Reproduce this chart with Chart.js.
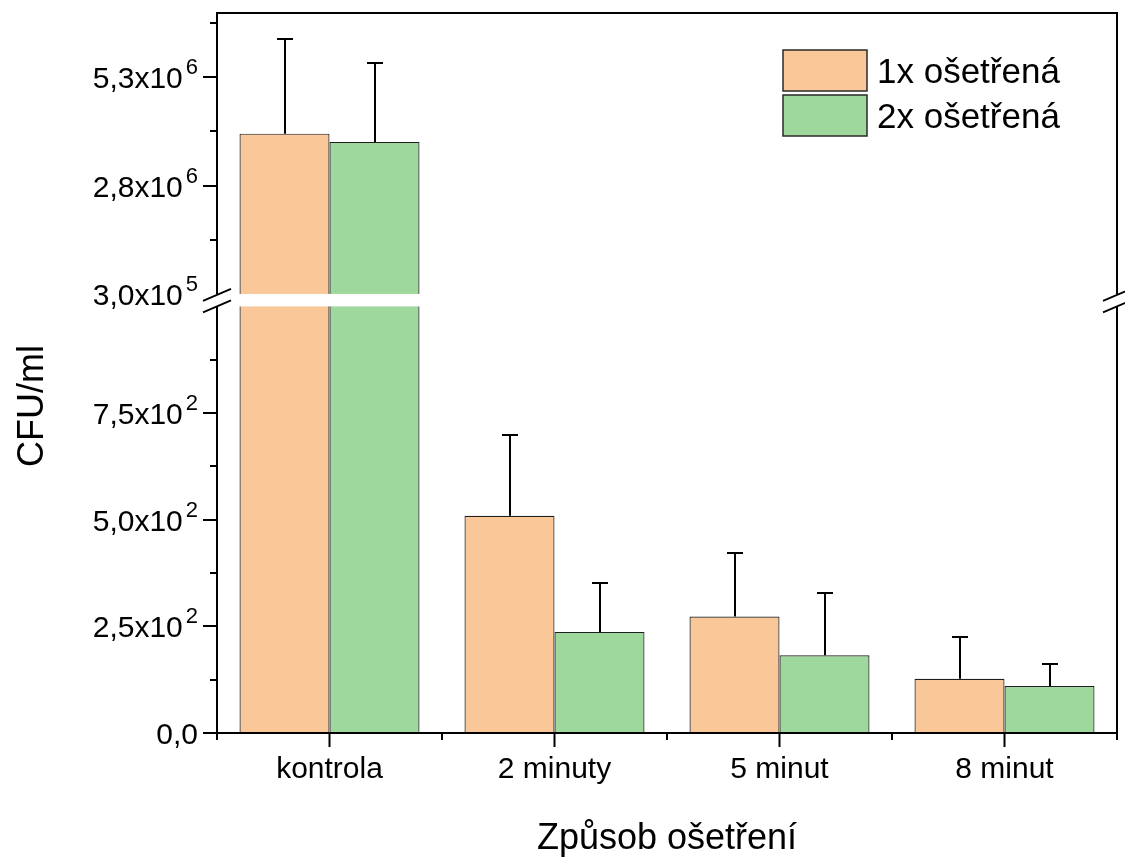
<!DOCTYPE html>
<html>
<head>
<meta charset="utf-8">
<script src="https://cdn.jsdelivr.net/npm/chart.js@4.4.1/dist/chart.umd.min.js"></script>
<style>
  html, body { margin: 0; padding: 0; background: #ffffff; }
  #wrap { width: 1125px; height: 867px; position: relative; }
</style>
</head>
<body>
<div id="wrap"><canvas id="chart"></canvas></div>
<script>
// Categories and series
const categories = ['kontrola', '2 minuty', '5 minut', '8 minut'];
const seriesNames = ['1x ošetřená', '2x ošetřená'];
const onceTreated = [4.0e6, 509, 273, 127];
const onceTreatedErr = [2.18e6, 189, 148, 97];
const twiceTreated = [3.81e6, 237, 182, 110];
const twiceTreatedErr = [1.81e6, 114, 146, 52];

// Broken value axis: lower and upper segments
const lowerTicks = [0, 250, 500, 750];
const lowerTickLabels = [['0,0', ''], ['2,5x10', '2'], ['5,0x10', '2'], ['7,5x10', '2']];
const lowerMinorTicks = [125, 375, 625, 875];
const upperTicks = [3.0e5, 2.8e6, 5.3e6];
const upperTickLabels = [['3,0x10', '5'], ['2,8x10', '6'], ['5,3x10', '6']];
const upperMinorTicks = [1.55e6, 4.05e6, 6.55e6];
const lowerBreak = 1000;      // top of lower segment
const upperBreak = 3.0e5;     // bottom of upper segment
const lowerRange = [0, 1015];
const upperRange = [1.6e5, 6.785e6];

const fills = ['#FAC898', '#9FD89D'];
const FONT = '"Liberation Sans", Arial, Helvetica, sans-serif';
Chart.defaults.font.family = FONT;
Chart.defaults.color = '#000';

function barSet(i, values, errs, axis) {
  return {
    label: seriesNames[i],
    data: values,
    errors: errs,
    backgroundColor: fills[i],
    borderColor: '#1e1e1e',
    borderWidth: 1.2,
    borderSkipped: 'start',
    stack: 'series' + i,
    yAxisID: axis,
    categoryPercentage: 0.8,
    barPercentage: 1.0
  };
}

const brokenAxis = {
  id: 'brokenAxis',
  // each bar set is confined to its own axis segment
  beforeDatasetDraw(chart, args) {
    const ys = chart.scales[args.meta.yAxisID];
    const a = chart.chartArea;
    const ctx = chart.ctx;
    ctx.save();
    ctx.beginPath();
    ctx.rect(a.left, ys.top, a.right - a.left, ys.bottom - ys.top);
    ctx.clip();
  },
  afterDatasetDraw(chart) {
    chart.ctx.restore();
  },
  afterDatasetsDraw(chart) {
    const ctx = chart.ctx;
    const a = chart.chartArea;
    const lo = chart.scales.yLow, hi = chart.scales.yHigh, xs = chart.scales.x;
    ctx.save();
    ctx.strokeStyle = '#000';
    ctx.fillStyle = '#000';
    ctx.lineWidth = 2;

    // error bars (upper whisker)
    chart.data.datasets.forEach((ds, di) => {
      const meta = chart.getDatasetMeta(di);
      const ys = chart.scales[meta.yAxisID];
      meta.data.forEach((bar, i) => {
        const v = ds.data[i], e = ds.errors[i];
        if (v < ys.min || v > ys.max) return;
        const x = Math.round(bar.x);
        const y0 = ys.getPixelForValue(v);
        const y1 = Math.round(ys.getPixelForValue(v + e));
        ctx.beginPath();
        ctx.moveTo(x, y0);
        ctx.lineTo(x, y1);
        ctx.moveTo(x - 8, y1);
        ctx.lineTo(x + 8, y1);
        ctx.stroke();
      });
    });

    // axis break band
    const bandTop = hi.getPixelForValue(upperBreak);
    const bandBottom = lo.getPixelForValue(lowerBreak);
    ctx.fillStyle = '#ffffff';
    ctx.fillRect(a.left - 1, bandTop, a.right - a.left + 2, bandBottom - bandTop);
    ctx.fillStyle = '#000';

    // frame
    ctx.beginPath();
    ctx.moveTo(a.left - 1, a.top); ctx.lineTo(a.right + 1, a.top);
    ctx.moveTo(a.left - 1, a.bottom); ctx.lineTo(a.right + 1, a.bottom);
    [a.left, a.right].forEach(x => {
      ctx.moveTo(x, a.top); ctx.lineTo(x, bandTop);
      ctx.moveTo(x, bandBottom); ctx.lineTo(x, a.bottom);
    });
    ctx.stroke();

    // break marks
    ctx.lineWidth = 1.8;
    ctx.beginPath();
    [a.left, a.right].forEach(x => {
      [bandTop + 1, bandBottom].forEach(y => {
        ctx.moveTo(x - 14, y + 6);
        ctx.lineTo(x + 14, y - 6);
      });
    });
    ctx.stroke();
    ctx.lineWidth = 2;

    // value-axis ticks
    ctx.beginPath();
    const tickAt = (y, len) => { y = Math.round(y); ctx.moveTo(a.left - len, y); ctx.lineTo(a.left, y); };
    lowerTicks.forEach(v => tickAt(lo.getPixelForValue(v), 14));
    upperTicks.slice(1).forEach(v => tickAt(hi.getPixelForValue(v), 14));
    lowerMinorTicks.forEach(v => tickAt(lo.getPixelForValue(v), 7));
    upperMinorTicks.forEach(v => tickAt(hi.getPixelForValue(v), 7));
    // category boundary ticks
    for (let i = 0; i <= categories.length; i++) {
      const x = Math.round(xs.getPixelForValue(i - 0.5));
      ctx.moveTo(x, a.bottom); ctx.lineTo(x, a.bottom + 7);
    }
    ctx.stroke();

    // value-axis labels with superscript exponents
    const right = a.left - 19;
    function drawLabel(y, parts) {
      ctx.textAlign = 'right';
      ctx.textBaseline = 'alphabetic';
      let edge = right;
      if (parts[1]) {
        ctx.font = '22px ' + FONT;
        ctx.fillText(parts[1], edge, y - 3);
        edge -= ctx.measureText(parts[1]).width + 3;
      }
      ctx.font = '30px ' + FONT;
      ctx.fillText(parts[0], edge, y + 11);
    }
    lowerTicks.forEach((v, i) => drawLabel(lo.getPixelForValue(v), lowerTickLabels[i]));
    upperTicks.forEach((v, i) => drawLabel(hi.getPixelForValue(v), upperTickLabels[i]));

    // value-axis title
    ctx.save();
    ctx.translate(43, 406);
    ctx.rotate(-Math.PI / 2);
    ctx.textAlign = 'center';
    ctx.textBaseline = 'alphabetic';
    ctx.font = '36px ' + FONT;
    ctx.fillText('CFU/ml', 0, 0);
    ctx.restore();

    // legend
    const lx = a.right - 334, ly = a.top + 37;
    seriesNames.forEach((name, i) => {
      const y = ly + i * 45;
      ctx.fillStyle = fills[i];
      ctx.fillRect(lx, y, 84, 41);
      ctx.strokeStyle = '#2a2a2a';
      ctx.lineWidth = 1.5;
      ctx.strokeRect(lx, y, 84, 41);
      ctx.fillStyle = '#000';
      ctx.font = '35px ' + FONT;
      ctx.textAlign = 'left';
      ctx.textBaseline = 'alphabetic';
      ctx.fillText(name, lx + 94, y + 33);
    });
    ctx.restore();
  }
};

new Chart(document.getElementById('chart'), {
  type: 'bar',
  data: {
    labels: categories,
    datasets: [
      barSet(0, onceTreated, onceTreatedErr, 'yLow'),
      barSet(1, twiceTreated, twiceTreatedErr, 'yLow'),
      barSet(0, onceTreated, onceTreatedErr, 'yHigh'),
      barSet(1, twiceTreated, twiceTreatedErr, 'yHigh')
    ]
  },
  options: {
    responsive: true,
    maintainAspectRatio: false,
    animation: false,
    layout: { padding: { top: 13, right: 8, bottom: 0, left: 0 } },
    plugins: { legend: { display: false }, tooltip: { enabled: false } },
    scales: {
      x: {
        offset: true,
        grid: { display: true, offset: false, drawOnChartArea: false, drawTicks: true, tickLength: 14, tickWidth: 2, tickColor: '#000' },
        border: { display: false },
        ticks: { font: { size: 30 }, color: '#000', padding: 5, maxRotation: 0, autoSkip: false },
        title: { display: true, text: 'Způsob ošetření', font: { size: 36 }, color: '#000', padding: { top: 0, bottom: 6 } },
        afterFit(s) { s.height = 134; }
      },
      yLow: {
        type: 'linear', position: 'left', stack: 'cfu', stackWeight: 433,
        min: lowerRange[0], max: lowerRange[1],
        grid: { display: false }, border: { display: false }, ticks: { display: false },
        afterFit(s) { s.width = 217; }
      },
      yHigh: {
        type: 'linear', position: 'left', stack: 'cfu', stackWeight: 287,
        min: upperRange[0], max: upperRange[1],
        grid: { display: false }, border: { display: false }, ticks: { display: false },
        afterFit(s) { s.width = 217; }
      }
    }
  },
  plugins: [brokenAxis]
});
</script>
</body>
</html>
